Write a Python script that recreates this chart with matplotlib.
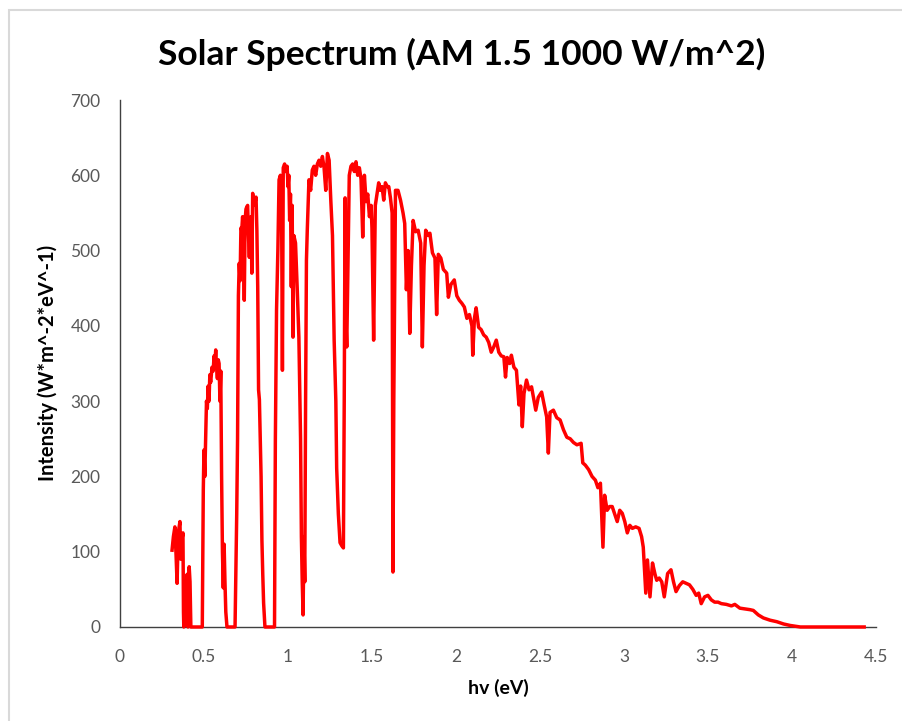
import matplotlib.pyplot as plt
import numpy as np
from matplotlib.patches import Rectangle
from matplotlib.ticker import FuncFormatter

plt.rcParams['font.family'] = ['Lato', 'DejaVu Sans']

# AM 1.5 spectrum: photon energy (eV) and intensity (W m^-2 eV^-1)
hv = [0.310, 0.318, 0.327, 0.334, 0.340, 0.347, 0.357, 0.362, 0.368, 0.375,
      0.378, 0.380, 0.387, 0.392, 0.400, 0.405, 0.412, 0.417, 0.422, 0.430,
      0.490, 0.496, 0.500, 0.505, 0.510, 0.515, 0.520, 0.525, 0.530, 0.535,
      0.540, 0.548, 0.555, 0.560, 0.565, 0.570, 0.575, 0.580, 0.585, 0.590,
      0.595, 0.600, 0.605, 0.610, 0.615, 0.620, 0.625, 0.630, 0.637, 0.685,
      0.695, 0.700, 0.705, 0.710, 0.715, 0.720, 0.725, 0.730, 0.735, 0.740,
      0.745, 0.750, 0.755, 0.760, 0.765, 0.770, 0.775, 0.780, 0.785, 0.790,
      0.795, 0.800, 0.805, 0.810, 0.815, 0.820, 0.825, 0.830, 0.835, 0.840,
      0.845, 0.850, 0.855, 0.863, 0.920, 0.925, 0.932, 0.940, 0.947, 0.955,
      0.962, 0.967, 0.972, 0.980, 0.987, 0.995, 1.000, 1.005, 1.010, 1.015,
      1.020, 1.025, 1.030, 1.035, 1.045, 1.055, 1.065, 1.075, 1.080, 1.085,
      1.090, 1.095, 1.100, 1.105, 1.110, 1.115, 1.125, 1.135, 1.145, 1.155,
      1.165, 1.175, 1.185, 1.195, 1.205, 1.215, 1.225, 1.235, 1.245, 1.255,
      1.265, 1.275, 1.285, 1.290, 1.300, 1.310, 1.320, 1.330, 1.335, 1.340,
      1.345, 1.350, 1.355, 1.365, 1.375, 1.385, 1.395, 1.405, 1.415, 1.425,
      1.435, 1.445, 1.455, 1.465, 1.475, 1.485, 1.495, 1.500, 1.510, 1.520,
      1.530, 1.540, 1.550, 1.560, 1.570, 1.580, 1.590, 1.600, 1.610, 1.620,
      1.625, 1.630, 1.640, 1.655, 1.670, 1.685, 1.695, 1.705, 1.715, 1.725,
      1.735, 1.745, 1.760, 1.775, 1.790, 1.800, 1.810, 1.820, 1.835, 1.845,
      1.860, 1.875, 1.885, 1.895, 1.910, 1.925, 1.945, 1.955, 1.970, 1.990,
      2.005, 2.020, 2.035, 2.050, 2.065, 2.080, 2.095, 2.100, 2.110, 2.120,
      2.135, 2.150, 2.165, 2.180, 2.195, 2.210, 2.225, 2.240, 2.255, 2.270,
      2.285, 2.295, 2.305, 2.320, 2.330, 2.345, 2.360, 2.375, 2.385, 2.395,
      2.405, 2.420, 2.435, 2.450, 2.465, 2.475, 2.490, 2.510, 2.525, 2.540,
      2.550, 2.560, 2.580, 2.600, 2.620, 2.640, 2.660, 2.680, 2.700, 2.720,
      2.745, 2.755, 2.770, 2.790, 2.810, 2.830, 2.845, 2.860, 2.875, 2.885,
      2.900, 2.915, 2.930, 2.945, 2.960, 2.975, 2.990, 3.005, 3.020, 3.035,
      3.050, 3.070, 3.090, 3.105, 3.115, 3.130, 3.140, 3.155, 3.170, 3.185,
      3.195, 3.210, 3.225, 3.240, 3.260, 3.280, 3.295, 3.310, 3.330, 3.350,
      3.370, 3.390, 3.410, 3.430, 3.445, 3.460, 3.480, 3.500, 3.520, 3.540,
      3.560, 3.580, 3.610, 3.640, 3.660, 3.690, 3.720, 3.750, 3.770, 3.800,
      3.830, 3.870, 3.910, 3.950, 3.990, 4.050, 4.430]
intensity = [102, 120, 133, 95, 58, 125, 140, 90, 115, 125,
             20, 0, 58, 10, 70, 0, 80, 60, 0, 0,
             0, 182, 235, 200, 250, 300, 290, 320, 300, 335,
             325, 345, 340, 360, 350, 368, 345, 330, 355, 350,
             300, 340, 200, 100, 52, 110, 60, 20, 0, 0,
             150, 250, 440, 483, 460, 530, 527, 545, 520, 434,
             540, 555, 558, 560, 520, 491, 530, 545, 470, 576,
             560, 570, 565, 571, 527, 452, 315, 302, 250, 200,
             115, 70, 32, 0, 0, 248, 421, 501, 594, 600,
             560, 341, 610, 615, 605, 612, 585, 600, 540, 575,
             452, 560, 385, 520, 510, 450, 385, 250, 120, 60,
             16, 120, 60, 300, 487, 527, 594, 580, 607, 612,
             600, 615, 620, 612, 625, 610, 580, 629, 620, 567,
             520, 381, 300, 211, 150, 112, 108, 105, 300, 570,
             408, 372, 450, 600, 612, 615, 605, 618, 600, 610,
             595, 518, 600, 565, 575, 545, 560, 530, 381, 560,
             575, 590, 580, 585, 567, 590, 585, 585, 570, 550,
             73, 300, 580, 580, 567, 550, 536, 448, 500, 390,
             480, 540, 525, 527, 510, 372, 480, 527, 520, 523,
             497, 490, 415, 495, 490, 475, 470, 438, 455, 461,
             440, 434, 430, 425, 410, 415, 400, 361, 410, 424,
             398, 395, 388, 385, 378, 365, 372, 381, 365, 360,
             359, 332, 358, 350, 361, 345, 341, 295, 320, 266,
             310, 328, 315, 319, 300, 288, 305, 312, 295, 279,
             231, 285, 288, 278, 275, 262, 252, 250, 245, 242,
             244, 218, 215, 209, 200, 195, 185, 191, 106, 175,
             155, 160, 160, 150, 140, 155, 151, 140, 125, 135,
             131, 133, 131, 120, 106, 45, 89, 40, 85, 70,
             62, 65, 60, 40, 71, 76, 60, 47, 55, 60,
             58, 56, 50, 42, 45, 31, 40, 42, 36, 33,
             33, 31, 30, 28, 30, 25, 24, 23, 22, 16,
             12, 9, 7, 4, 2, 0, 0]

x_ticks = np.arange(0, 4.51, 0.5)
y_ticks = np.arange(0, 701, 100)

fig = plt.figure(figsize=(9.02, 7.21), dpi=100)
ax = fig.add_axes([0.1330, 0.1304, 0.8381, 0.7309])

ax.plot(hv, intensity, color='#ff0000', lw=2.5, clip_on=False, zorder=3)

ax.set_xlim(0, 4.5)
ax.set_ylim(0, 700)
ax.set_xticks(x_ticks)
ax.set_yticks(y_ticks)
ax.xaxis.set_major_formatter(FuncFormatter(lambda v, p: '{:g}'.format(v)))
ax.tick_params(axis='both', length=0, labelsize=12.5, labelcolor='#595959')
ax.tick_params(axis='x', pad=16)
ax.tick_params(axis='y', pad=14)

for side in ['top', 'right']:
    ax.spines[side].set_visible(False)
for side in ['left', 'bottom']:
    ax.spines[side].set_color('#404040')
    ax.spines[side].set_linewidth(1.0)

fig.text(0.512, 0.924, 'Solar Spectrum (AM 1.5 1000 W/m^2)', ha='center',
         va='center', fontsize=25.5, fontweight='bold', color='black')
fig.text(0.552, 0.0458, 'hv (eV)', ha='center', va='center',
         fontsize=14, fontweight='bold', color='black')
fig.text(0.0532, 0.4965, 'Intensity (W*m^-2*eV^-1)', ha='center',
         va='center', rotation=90, fontsize=14.5, fontweight='bold',
         color='black')

# chart area frame
fig.add_artist(Rectangle((9 / 902, -0.05), 1.1, 1 - 10 / 721 + 0.05,
                         transform=fig.transFigure, fill=False,
                         edgecolor='#d9d9d9', lw=1.5))

fig.savefig('out.png', dpi=100)
